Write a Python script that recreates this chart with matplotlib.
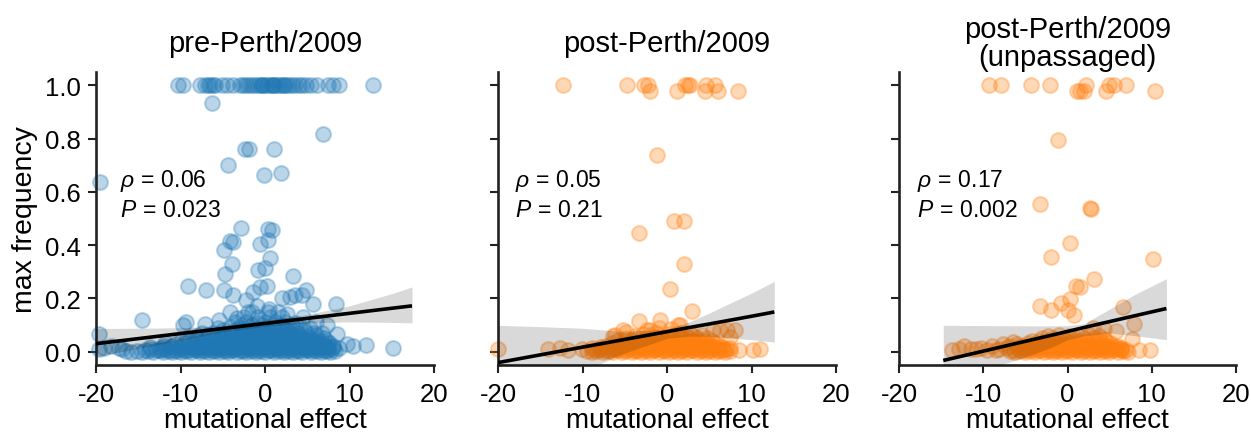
import matplotlib
matplotlib.use("Agg")
import matplotlib.pyplot as plt

plt.rcParams['font.family'] = ['Liberation Sans', 'DejaVu Sans']
plt.rcParams['mathtext.fontset'] = 'custom'
plt.rcParams['mathtext.it'] = 'Liberation Sans:italic'
plt.rcParams['mathtext.rm'] = 'Liberation Sans'

# ---------------- data ----------------
titles = ["pre-Perth/2009", "post-Perth/2009", "post-Perth/2009\n(unpassaged)"]
rho_labels = ["0.06", "0.05", "0.17"]
p_labels = ["0.023", "0.21", "0.002"]
xtick_vals = [-20, -10, 0, 10, 20]
xtick_labels = ["-20", "-10", "0", "10", "20"]
ytick_vals = [0.0, 0.2, 0.4, 0.6, 0.8, 1.0]
ytick_labels = ["0.0", "0.2", "0.4", "0.6", "0.8", "1.0"]

# pre-Perth/2009 : (mutational effect, max frequency)
pre_points = [
    # fixed (frequency 1)
    (-10.3, 1.0), (-9.7, 1.0), (-7.7, 1.0), (-7.1, 1.0), (-6.5, 1.0), (-5.9, 1.0), (-5.1, 1.0),
    (-4.5, 1.0), (-3.75, 1.0), (-3.0, 1.0), (-2.6, 1.0), (-2.2, 1.0), (-1.9, 1.0), (-1.5, 1.0),
    (-1.2, 1.0), (-0.8, 1.0), (-0.5, 1.0), (-0.2, 1.0), (0.1, 1.0), (0.4, 1.0), (0.7, 1.0),
    (1.0, 1.0), (1.2, 1.0), (1.5, 1.0), (1.8, 1.0), (2.1, 1.0), (2.5, 1.0), (2.8, 1.0),
    (3.2, 1.0), (3.6, 1.0), (4.0, 1.0), (4.4, 1.0), (4.9, 1.0), (5.5, 1.0), (6.1, 1.0),
    (7.5, 1.0), (8.1, 1.0), (8.7, 1.0), (12.8, 1.0), (-6.8, 1.0), (-6.2, 1.0), (-0.4, 1.0),
    (0.9, 1.0), (2.3, 1.0),
    # intermediate
    (-6.3, 0.932), (6.9, 0.817), (-2.4, 0.76), (-1.9, 0.76), (1.1, 0.76), (-4.4, 0.70),
    (-0.1, 0.663), (1.9, 0.672), (-19.5, 0.638), (-2.8, 0.465), (0.4, 0.459), (0.8, 0.455),
    (-4.1, 0.417), (-3.75, 0.412), (-0.6, 0.406), (0.3, 0.418), (-4.9, 0.381), (0.6, 0.35),
    (-3.9, 0.328), (-0.8, 0.306), (0.0, 0.315), (-4.7, 0.29), (3.35, 0.285), (-9.1, 0.245),
    (-7.0, 0.23), (-4.9, 0.233), (-3.8, 0.212), (-2.2, 0.193), (-1.4, 0.224), (-0.6, 0.243),
    (0.2, 0.247), (2.0, 0.203), (3.0, 0.205), (3.55, 0.212), (4.35, 0.214), (4.9, 0.23),
    (5.7, 0.18), (8.4, 0.18), (-14.6, 0.118), (-9.3, 0.111), (-9.7, 0.099), (-7.1, 0.105),
    (-4.1, 0.149), (-3.35, 0.127), (12.0, 0.026), (15.1, 0.014), (9.7, 0.03), (10.4, 0.02),
    (8.5, 0.068), (7.3, 0.10), (-19.7, 0.068), (-19.7, 0.011), (-19.0, 0.012), (-18.2, 0.02),
    (-17.3, 0.015), (-16.9, 0.01), (-1.0, 0.17), (0.5, 0.16), (1.5, 0.15), (-2.0, 0.15),
    (2.6, 0.14), (-5.5, 0.12), (4.5, 0.13), (6.0, 0.11),
    # dense cloud near zero
    (-16.4, 0.002), (-15.8, 0.0), (-15.1, 0.004), (-14.5, 0.0), (-13.9, 0.003), (-13.2, 0.0),
    (-12.6, 0.005), (-12.1, 0.0), (-11.5, 0.002), (-11.0, 0.0), (-10.4, 0.004), (-9.9, 0.0),
    (-9.3, 0.003), (-8.8, 0.0), (-8.2, 0.005), (-7.7, 0.0), (-7.1, 0.002), (-6.6, 0.0),
    (-6.0, 0.004), (-5.5, 0.0), (-4.9, 0.003), (-4.4, 0.0), (-3.8, 0.005), (-3.3, 0.0),
    (-2.7, 0.002), (-2.2, 0.0), (-1.6, 0.004), (-1.1, 0.0), (-0.5, 0.003), (0.0, 0.0),
    (0.6, 0.005), (1.1, 0.0), (1.7, 0.002), (2.2, 0.0), (2.8, 0.004), (3.3, 0.0),
    (3.9, 0.003), (4.4, 0.0), (5.0, 0.005), (5.5, 0.0), (6.1, 0.002), (6.6, 0.0),
    (7.2, 0.004), (7.7, 0.0), (8.3, 0.003),
    (-14.2, 0.008), (-13.6, 0.009), (-12.9, 0.007), (-12.3, 0.008), (-11.8, 0.009), (-11.2, 0.007),
    (-10.7, 0.008), (-10.1, 0.009), (-9.6, 0.007), (-9.0, 0.008), (-8.5, 0.009), (-7.9, 0.007),
    (-7.4, 0.008), (-6.8, 0.009), (-6.3, 0.007), (-5.7, 0.008), (-5.2, 0.009), (-4.6, 0.007),
    (-4.1, 0.008), (-3.5, 0.009), (-3.0, 0.007), (-2.4, 0.008), (-1.9, 0.009), (-1.3, 0.007),
    (-0.8, 0.008), (-0.2, 0.009), (0.3, 0.007), (0.9, 0.008), (1.4, 0.009), (2.0, 0.007),
    (2.5, 0.008), (3.1, 0.009), (3.6, 0.007), (4.2, 0.008), (4.7, 0.009), (5.3, 0.007),
    (5.8, 0.008), (6.4, 0.009), (6.9, 0.007), (7.5, 0.008), (8.0, 0.009),
    (-13.6, 0.016), (-12.3, 0.014), (-11.2, 0.017), (-10.1, 0.015), (-9.0, 0.016), (-8.0, 0.014),
    (-7.4, 0.017), (-6.8, 0.015), (-6.2, 0.016), (-5.7, 0.014), (-5.1, 0.017), (-4.6, 0.015),
    (-4.0, 0.016), (-3.5, 0.014), (-2.9, 0.017), (-2.4, 0.015), (-1.9, 0.016), (-1.3, 0.014),
    (-0.8, 0.017), (-0.2, 0.015), (0.3, 0.016), (0.9, 0.014), (1.4, 0.017), (2.0, 0.015),
    (2.5, 0.016), (3.1, 0.014), (3.6, 0.017), (4.2, 0.015), (4.7, 0.016), (5.3, 0.014),
    (5.8, 0.017), (6.4, 0.015), (6.9, 0.016), (7.5, 0.014), (8.1, 0.017), (8.8, 0.015),
    (-12.0, 0.022), (-11.0, 0.023), (-10.0, 0.021), (-9.2, 0.022), (-8.5, 0.023), (-7.9, 0.021),
    (-7.2, 0.022), (-6.6, 0.023), (-6.0, 0.021), (-5.4, 0.022), (-4.8, 0.023), (-4.2, 0.021),
    (-3.6, 0.022), (-3.1, 0.023), (-2.6, 0.021), (-2.1, 0.022), (-1.5, 0.023), (-1.0, 0.021),
    (-0.4, 0.022), (0.2, 0.023), (0.8, 0.021), (1.3, 0.022), (1.9, 0.023), (2.4, 0.021),
    (3.0, 0.022), (3.5, 0.023), (4.0, 0.021), (4.6, 0.022), (5.2, 0.023), (5.7, 0.021),
    (6.2, 0.022), (6.8, 0.023), (7.3, 0.021), (8.0, 0.022),
    (-11.8, 0.031), (-10.6, 0.029), (-9.5, 0.032), (-8.5, 0.030), (-7.6, 0.031), (-6.9, 0.029),
    (-6.3, 0.032), (-5.6, 0.030), (-5.0, 0.031), (-4.3, 0.029), (-3.7, 0.032), (-3.0, 0.030),
    (-2.5, 0.031), (-1.8, 0.029), (-1.2, 0.032), (-0.6, 0.030), (0.1, 0.031), (0.7, 0.029),
    (1.3, 0.032), (1.9, 0.030), (2.6, 0.031), (3.2, 0.029), (3.8, 0.032), (4.5, 0.030),
    (5.1, 0.031), (5.7, 0.029), (6.3, 0.032), (7.0, 0.030), (7.6, 0.031),
    (-10.0, 0.040), (-9.0, 0.041), (-8.1, 0.039), (-7.3, 0.040), (-6.6, 0.041), (-5.9, 0.039),
    (-5.3, 0.040), (-4.7, 0.041), (-4.1, 0.039), (-3.4, 0.040), (-2.8, 0.041), (-2.1, 0.039),
    (-1.5, 0.040), (-0.9, 0.041), (-0.2, 0.039), (0.4, 0.040), (1.0, 0.041), (1.6, 0.039),
    (2.2, 0.040), (2.9, 0.041), (3.5, 0.039), (4.1, 0.040), (4.8, 0.041), (5.4, 0.039),
    (6.0, 0.040), (6.7, 0.041), (7.3, 0.039),
    (-9.2, 0.050), (-8.0, 0.052), (-7.0, 0.049), (-6.0, 0.051), (-5.2, 0.050), (-4.5, 0.052),
    (-3.8, 0.049), (-3.1, 0.051), (-2.4, 0.050), (-1.7, 0.052), (-1.0, 0.049), (-0.3, 0.051),
    (0.4, 0.050), (1.1, 0.052), (1.8, 0.049), (2.5, 0.051), (3.2, 0.050), (3.9, 0.052),
    (4.6, 0.049), (5.4, 0.051), (6.2, 0.050), (7.0, 0.052),
    (-8.2, 0.060), (-6.8, 0.061), (-5.6, 0.059), (-4.7, 0.060), (-3.9, 0.061), (-3.1, 0.059),
    (-2.3, 0.060), (-1.5, 0.061), (-0.7, 0.059), (0.1, 0.060), (0.9, 0.061), (1.7, 0.059),
    (2.5, 0.060), (3.3, 0.061), (4.1, 0.059), (5.0, 0.060), (6.0, 0.061),
    (-7.5, 0.070), (-6.2, 0.072), (-5.0, 0.069), (-4.0, 0.071), (-3.0, 0.070), (-2.1, 0.072),
    (-1.2, 0.069), (-0.4, 0.071), (0.5, 0.070), (1.3, 0.072), (2.2, 0.069), (3.0, 0.071),
    (3.9, 0.070), (4.8, 0.072), (5.8, 0.069), (6.8, 0.071),
    (-5.0, 0.080), (-3.5, 0.081), (-2.4, 0.079), (-1.4, 0.080), (-0.4, 0.081), (0.6, 0.079),
    (1.6, 0.080), (2.6, 0.081), (3.6, 0.079), (4.6, 0.080),
    (-5.6, 0.090), (-4.2, 0.092), (-3.0, 0.089), (-1.9, 0.091), (-0.9, 0.090), (0.1, 0.092),
    (1.0, 0.089), (2.0, 0.091), (3.0, 0.090), (4.1, 0.092), (5.3, 0.089),
    (-2.8, 0.100), (-1.5, 0.101), (-0.3, 0.099), (0.9, 0.100), (2.1, 0.101), (3.2, 0.099),
    (-3.6, 0.110), (-2.2, 0.112), (-1.0, 0.109), (0.0, 0.111), (1.2, 0.110), (2.4, 0.112),
    (3.6, 0.109), (-2.5, 0.130), (-0.8, 0.132), (0.6, 0.129), (2.0, 0.131), (-1.5, 0.150),
    (0.3, 0.148),
]

# post-Perth/2009
post_points = [
    (-12.3, 1.0), (-4.7, 1.0), (-2.7, 1.0), (-2.2, 1.0), (-2.0, 0.98), (1.2, 0.98), (2.1, 1.0),
    (2.5, 1.0), (2.7, 1.0), (4.6, 1.0), (4.5, 0.98), (5.7, 1.0), (6.0, 0.98), (8.4, 0.98),
    (-1.15, 0.738), (0.87, 0.491), (2.05, 0.491), (-3.3, 0.446), (2.05, 0.331), (0.3, 0.234),
    (3.0, 0.154), (-3.35, 0.116), (-0.8, 0.12), (1.5, 0.099), (-6.2, 0.061), (-4.8, 0.074),
    (-2.4, 0.08), (5.5, 0.08), (6.3, 0.08), (7.1, 0.082), (8.1, 0.08), (7.5, 0.056),
    (-6.4, 0.06), (-5.2, 0.08), (-2.0, 0.08), (1.35, 0.1), (-1.0, 0.09), (0.5, 0.085),
    (-20.0, 0.01), (-14.1, 0.01), (-12.7, 0.012), (-11.7, 0.008), (-10.1, 0.01), (-8.9, 0.015),
    (-7.9, 0.01), (6.7, 0.01), (7.5, 0.012), (8.5, 0.008), (10.2, 0.005), (11.0, 0.01),
    (-9.5, 0.002), (-8.9, 0.0), (-8.3, 0.004), (-7.6, 0.0), (-7.0, 0.003), (-6.4, 0.0),
    (-5.9, 0.005), (-5.3, 0.0), (-4.8, 0.002), (-4.2, 0.0), (-3.7, 0.004), (-3.1, 0.0),
    (-2.6, 0.003), (-2.0, 0.0), (-1.5, 0.005), (-0.9, 0.0), (-0.4, 0.002), (0.2, 0.0),
    (0.7, 0.004), (1.3, 0.0), (1.8, 0.003), (2.4, 0.0), (2.9, 0.005), (3.5, 0.0),
    (4.0, 0.002), (4.6, 0.0), (5.1, 0.004), (5.7, 0.0), (6.2, 0.003), (6.9, 0.0), (7.4, 0.002),
    (-8.6, 0.008), (-8.0, 0.009), (-7.3, 0.007), (-6.7, 0.008), (-6.1, 0.009), (-5.6, 0.007),
    (-5.0, 0.008), (-4.5, 0.009), (-3.9, 0.007), (-3.4, 0.008), (-2.8, 0.009), (-2.3, 0.007),
    (-1.7, 0.008), (-1.2, 0.009), (-0.6, 0.007), (-0.1, 0.008), (0.5, 0.009), (1.0, 0.007),
    (1.6, 0.008), (2.1, 0.009), (2.7, 0.007), (3.2, 0.008), (3.8, 0.009), (4.3, 0.007),
    (4.9, 0.008), (5.4, 0.009), (6.0, 0.007), (6.6, 0.008), (7.1, 0.009),
    (-7.8, 0.016), (-6.7, 0.014), (-5.9, 0.017), (-5.1, 0.015), (-4.4, 0.016), (-3.8, 0.014),
    (-3.2, 0.017), (-2.6, 0.015), (-2.0, 0.016), (-1.4, 0.014), (-0.8, 0.017), (-0.2, 0.015),
    (0.4, 0.016), (1.0, 0.014), (1.6, 0.017), (2.2, 0.015), (2.8, 0.016), (3.4, 0.014),
    (4.0, 0.017), (4.6, 0.015), (5.2, 0.016), (5.9, 0.014), (6.5, 0.017),
    (-7.2, 0.022), (-6.3, 0.023), (-5.5, 0.021), (-4.8, 0.022), (-4.1, 0.023), (-3.5, 0.021),
    (-2.9, 0.022), (-2.3, 0.023), (-1.7, 0.021), (-1.1, 0.022), (-0.5, 0.023), (0.1, 0.021),
    (0.7, 0.022), (1.3, 0.023), (1.9, 0.021), (2.5, 0.022), (3.1, 0.023), (3.7, 0.021),
    (4.3, 0.022), (4.9, 0.023), (5.5, 0.021), (6.2, 0.022),
    (-6.5, 0.031), (-5.4, 0.029), (-4.5, 0.032), (-3.7, 0.030), (-2.9, 0.031), (-2.2, 0.029),
    (-1.5, 0.032), (-0.8, 0.030), (-0.1, 0.031), (0.6, 0.029), (1.3, 0.032), (2.0, 0.030),
    (2.7, 0.031), (3.4, 0.029), (4.1, 0.032), (4.9, 0.030), (5.7, 0.031),
    (-5.9, 0.040), (-5.0, 0.041), (-4.1, 0.039), (-3.3, 0.040), (-2.5, 0.041), (-1.8, 0.039),
    (-1.1, 0.040), (-0.4, 0.041), (0.3, 0.039), (1.0, 0.040), (1.7, 0.041), (2.4, 0.039),
    (3.1, 0.040), (3.8, 0.041), (4.5, 0.039), (5.3, 0.040),
    (-4.8, 0.050), (-3.6, 0.052), (-2.5, 0.049), (-1.4, 0.051), (-0.4, 0.050), (0.6, 0.052),
    (1.6, 0.049), (2.6, 0.051), (3.6, 0.050), (4.7, 0.052),
    (-3.8, 0.060), (-2.0, 0.061), (-0.8, 0.059), (0.4, 0.060), (1.6, 0.061), (2.2, 0.059),
    (3.2, 0.060), (4.2, 0.061),
    (-2.8, 0.068), (-1.3, 0.070), (0.1, 0.067), (1.4, 0.069), (2.8, 0.068),
]

# post-Perth/2009 (unpassaged)
unp_points = [
    (-9.3, 1.0), (-7.9, 1.0), (-4.3, 1.0), (-2.1, 1.0), (2.25, 1.0), (4.9, 1.0), (5.5, 1.0),
    (6.9, 1.0), (1.07, 0.98), (1.54, 0.98), (1.9, 0.98), (4.6, 0.98), (10.4, 0.98),
    (-1.1, 0.794), (-3.3, 0.556), (2.7, 0.538), (2.8, 0.536), (0.27, 0.409), (-1.9, 0.356),
    (10.2, 0.347), (3.1, 0.272), (0.95, 0.247), (1.46, 0.242), (-3.3, 0.172), (-1.9, 0.155),
    (-0.8, 0.183), (0.27, 0.197), (0.0, 0.155), (0.75, 0.139), (6.6, 0.168), (7.9, 0.105),
    (5.7, 0.076), (7.7, 0.049), (4.3, 0.085), (3.0, 0.09),
    (-13.7, 0.008), (-12.9, 0.01), (-11.5, 0.01), (-10.9, 0.01), (-10.3, 0.012), (-9.5, 0.008),
    (-8.1, 0.01), (-7.2, 0.012), (-7.6, 0.03), (-6.5, 0.035), (6.3, 0.01), (8.5, 0.008),
    (9.8, 0.005), (-12.3, 0.02), (-9.0, 0.02), (-8.5, 0.005), (-7.0, 0.02), (-6.0, 0.03),
    (-6.8, 0.002), (-6.2, 0.0), (-5.6, 0.004), (-5.0, 0.0), (-4.5, 0.003), (-3.9, 0.0),
    (-3.4, 0.005), (-2.8, 0.0), (-2.3, 0.002), (-1.7, 0.0), (-1.2, 0.004), (-0.6, 0.0),
    (-0.1, 0.003), (0.5, 0.0), (1.0, 0.005), (1.6, 0.0), (2.1, 0.002), (2.7, 0.0),
    (3.2, 0.004), (3.8, 0.0), (4.3, 0.003), (4.9, 0.0), (5.4, 0.005), (6.0, 0.0),
    (6.6, 0.002), (7.2, 0.0),
    (-6.5, 0.008), (-5.9, 0.009), (-5.3, 0.007), (-4.8, 0.008), (-4.2, 0.009), (-3.7, 0.007),
    (-3.1, 0.008), (-2.6, 0.009), (-2.0, 0.007), (-1.5, 0.008), (-0.9, 0.009), (-0.4, 0.007),
    (0.2, 0.008), (0.7, 0.009), (1.3, 0.007), (1.8, 0.008), (2.4, 0.009), (2.9, 0.007),
    (3.5, 0.008), (4.0, 0.009), (4.6, 0.007), (5.1, 0.008), (5.7, 0.009), (6.3, 0.007),
    (6.9, 0.008),
    (-5.9, 0.016), (-5.0, 0.014), (-4.3, 0.017), (-3.6, 0.015), (-2.9, 0.016), (-2.3, 0.014),
    (-1.6, 0.017), (-1.0, 0.015), (-0.4, 0.016), (0.2, 0.014), (0.8, 0.017), (1.4, 0.015),
    (2.0, 0.016), (2.6, 0.014), (3.2, 0.017), (3.8, 0.015), (4.4, 0.016), (5.0, 0.014),
    (5.7, 0.017), (6.4, 0.015),
    (-5.4, 0.022), (-4.6, 0.023), (-4.0, 0.021), (-3.3, 0.022), (-2.6, 0.023), (-2.0, 0.021),
    (-1.3, 0.022), (-0.7, 0.023), (-0.1, 0.021), (0.5, 0.022), (1.1, 0.023), (1.7, 0.021),
    (2.3, 0.022), (2.9, 0.023), (3.5, 0.021), (4.1, 0.022), (4.7, 0.023), (5.3, 0.021),
    (6.0, 0.022),
    (-4.7, 0.031), (-3.8, 0.029), (-3.0, 0.032), (-2.2, 0.030), (-1.4, 0.031), (-0.6, 0.029),
    (0.2, 0.032), (1.0, 0.030), (1.8, 0.031), (2.6, 0.029), (3.4, 0.032), (4.2, 0.030),
    (5.1, 0.031),
    (-4.2, 0.040), (-3.4, 0.041), (-2.6, 0.039), (-1.8, 0.040), (-1.0, 0.041), (-0.2, 0.039),
    (0.6, 0.040), (1.4, 0.041), (2.2, 0.039), (3.0, 0.040), (3.8, 0.041), (4.6, 0.039),
    (-3.0, 0.050), (-1.7, 0.052), (-0.4, 0.049), (0.8, 0.051), (2.0, 0.050), (3.2, 0.052),
    (4.3, 0.049),
    (-2.3, 0.060), (-1.0, 0.061), (0.2, 0.059), (1.4, 0.060), (2.6, 0.061), (3.7, 0.059),
]

# regression fits: x, fitted line, CI low, CI high
pre_fit_x = [-20, -15, -10, -5, 0, 5, 10, 15, 17.4]
pre_fit_y = [0.030, 0.049, 0.068, 0.087, 0.106, 0.125, 0.144, 0.163, 0.172]
pre_ci_lo = [-0.018, 0.012, 0.042, 0.074, 0.095, 0.108, 0.112, 0.110, 0.108]
pre_ci_hi = [0.087, 0.088, 0.090, 0.097, 0.117, 0.140, 0.172, 0.218, 0.243]

post_fit_x = [-20, -15, -10, -5, 0, 2.5, 5, 10, 12.7]
post_fit_y = [-0.041, -0.012, 0.017, 0.046, 0.075, 0.090, 0.104, 0.133, 0.149]
post_ci_lo = [-0.19, -0.13, -0.075, -0.005, 0.050, 0.058, 0.058, 0.045, 0.036]
post_ci_hi = [0.099, 0.094, 0.088, 0.075, 0.085, 0.110, 0.145, 0.220, 0.264]

unp_fit_x = [-14.75, -10, -5, -2, 0, 2, 5, 8, 11.74]
unp_fit_y = [-0.033, 0.002, 0.039, 0.061, 0.076, 0.091, 0.113, 0.135, 0.162]
unp_ci_lo = [-0.13, -0.07, -0.02, 0.015, 0.045, 0.060, 0.070, 0.060, 0.045]
unp_ci_hi = [0.099, 0.098, 0.097, 0.097, 0.098, 0.105, 0.160, 0.215, 0.274]

# ---------------- drawing ----------------
fig = plt.figure(figsize=(12.51, 4.35), dpi=100)
W, H = 1251, 435
axes_px = [(96, 434), (498, 836), (899, 1236)]
bottom_px, top_px = 366, 73

panels = [
    (pre_points, pre_fit_x, pre_fit_y, pre_ci_lo, pre_ci_hi, "#1f77b4"),
    (post_points, post_fit_x, post_fit_y, post_ci_lo, post_ci_hi, "#ff7f0e"),
    (unp_points, unp_fit_x, unp_fit_y, unp_ci_lo, unp_ci_hi, "#ff7f0e"),
]
text_x = [0.071, 0.05, 0.053]
title_y = [1.05, 1.05, 1.005]

for i, (pts, fx, fy, lo, hi, col) in enumerate(panels):
    l, r = axes_px[i]
    ax = fig.add_axes([l / W, 1 - bottom_px / H, (r - l) / W, (bottom_px - top_px) / H])
    xs = [p[0] for p in pts]
    ys = [p[1] for p in pts]
    ax.scatter(xs, ys, s=115, color=col, alpha=0.3, linewidths=1.5,
               edgecolors=col, zorder=2, clip_on=False)
    ax.fill_between(fx, lo, hi, color="black", alpha=0.15, linewidth=0, zorder=3)
    ax.plot(fx, fy, color="black", lw=2.6, zorder=4, solid_capstyle="butt")
    ax.set_xlim(-20, 20)
    ax.set_ylim(-0.05, 1.05)
    ax.set_xticks(xtick_vals)
    ax.set_xticklabels(xtick_labels)
    ax.set_yticks(ytick_vals)
    if i == 0:
        ax.set_yticklabels(ytick_labels)
        ax.set_ylabel("max frequency", fontsize=20.5, labelpad=5)
    else:
        ax.set_yticklabels([])
    for s in ["top", "right"]:
        ax.spines[s].set_visible(False)
    for s in ["left", "bottom"]:
        ax.spines[s].set_linewidth(1.9)
        ax.spines[s].set_color("#222222")
    ax.tick_params(axis="both", length=6, width=1.5, labelsize=18.5, color="#222222")
    ax.tick_params(axis="x", pad=6)
    ax.tick_params(axis="y", pad=5)
    ax.set_xlabel("mutational effect", fontsize=20, labelpad=1)
    ax.text(0.5, title_y[i], titles[i], transform=ax.transAxes,
            ha="center", va="bottom", fontsize=21, linespacing=1.0)
    ax.text(text_x[i], 0.632, r"$\rho\,=\," + rho_labels[i] + "$", transform=ax.transAxes,
            ha="left", va="center", fontsize=16.5)
    ax.text(text_x[i], 0.532, r"$P\,=\," + p_labels[i] + "$", transform=ax.transAxes,
            ha="left", va="center", fontsize=16.5)

fig.savefig("out.png", dpi=100)
